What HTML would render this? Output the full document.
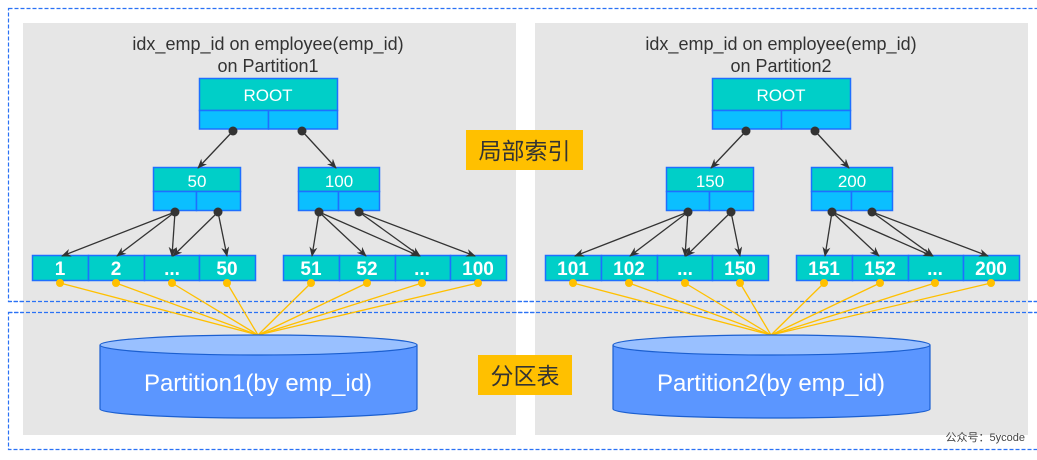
<!DOCTYPE html>
<html><head><meta charset="utf-8"><style>
body{margin:0;background:#fff;width:1037px;height:455px;overflow:hidden}
svg text{font-family:"Liberation Sans","Noto Sans CJK SC",sans-serif}
</style></head><body>
<svg width="1037" height="455" viewBox="0 0 1037 455" xmlns="http://www.w3.org/2000/svg">
<defs>
<marker id="ar" markerWidth="10" markerHeight="8" refX="9" refY="4" orient="auto" markerUnits="userSpaceOnUse">
<path d="M0,0 L10,4 L0,8 L3,4 z" fill="#333"/></marker>
<g id="panel">
<text x="268" y="50" font-size="18" fill="#333" text-anchor="middle">idx_emp_id on employee(emp_id)</text>
<!-- root -->
<rect x="199.5" y="78.5" width="138" height="32" fill="#00CFC8" stroke="#1E6FFF" stroke-width="1.5"/>
<rect x="199.5" y="110.5" width="69" height="18.5" fill="#0BBFFF" stroke="#1E6FFF" stroke-width="1.5"/>
<rect x="268.5" y="110.5" width="69" height="18.5" fill="#0BBFFF" stroke="#1E6FFF" stroke-width="1.5"/>
<!-- mid boxes -->
<rect x="153.5" y="167.5" width="87" height="24" fill="#00CFC8" stroke="#1E6FFF" stroke-width="1.5"/>
<rect x="153.5" y="191.5" width="43" height="19" fill="#0BBFFF" stroke="#1E6FFF" stroke-width="1.5"/>
<rect x="196.5" y="191.5" width="44" height="19" fill="#0BBFFF" stroke="#1E6FFF" stroke-width="1.5"/>
<rect x="298.5" y="167.5" width="81" height="24" fill="#00CFC8" stroke="#1E6FFF" stroke-width="1.5"/>
<rect x="298.5" y="191.5" width="40" height="19" fill="#0BBFFF" stroke="#1E6FFF" stroke-width="1.5"/>
<rect x="338.5" y="191.5" width="41" height="19" fill="#0BBFFF" stroke="#1E6FFF" stroke-width="1.5"/>
<!-- leaves -->
<g fill="#00CFC8" stroke="#1E6FFF" stroke-width="1.5">
<rect x="32.5" y="255.5" width="56" height="25"/><rect x="88.5" y="255.5" width="56" height="25"/>
<rect x="144.5" y="255.5" width="55" height="25"/><rect x="199.5" y="255.5" width="56" height="25"/>
<rect x="283.5" y="255.5" width="56" height="25"/><rect x="339.5" y="255.5" width="56" height="25"/>
<rect x="395.5" y="255.5" width="55" height="25"/><rect x="450.5" y="255.5" width="56" height="25"/>
</g>
<!-- arrows -->
<g stroke="#333" stroke-width="1.3" marker-end="url(#ar)">
<line x1="233" y1="131" x2="198" y2="168"/><line x1="302" y1="131" x2="336" y2="168"/>
<line x1="175" y1="212" x2="62" y2="256"/><line x1="175" y1="212" x2="117" y2="256"/><line x1="175" y1="212" x2="172" y2="256"/>
<line x1="218" y1="212" x2="173" y2="256"/><line x1="218" y1="212" x2="227" y2="256"/>
<line x1="319" y1="212" x2="312" y2="256"/><line x1="319" y1="212" x2="366" y2="256"/><line x1="319" y1="212" x2="419" y2="256"/>
<line x1="359" y1="212" x2="420" y2="256"/><line x1="359" y1="212" x2="475" y2="256"/>
</g>
<g fill="#333"><circle cx="233" cy="131" r="4.5"/><circle cx="302" cy="131" r="4.5"/>
<circle cx="175" cy="212" r="4.5"/><circle cx="218" cy="212" r="4.5"/>
<circle cx="319" cy="212" r="4.5"/><circle cx="359" cy="212" r="4.5"/></g>
<!-- yellow -->
<g stroke="#FFC000" stroke-width="1.3">
<line x1="60" y1="283" x2="258" y2="335"/><line x1="116" y1="283" x2="258" y2="335"/>
<line x1="172" y1="283" x2="258" y2="335"/><line x1="227" y1="283" x2="258" y2="335"/>
<line x1="311" y1="283" x2="258" y2="335"/><line x1="367" y1="283" x2="258" y2="335"/>
<line x1="422" y1="283" x2="258" y2="335"/><line x1="478" y1="283" x2="258" y2="335"/>
</g>
<g fill="#FFC000"><circle cx="60" cy="283" r="4"/><circle cx="116" cy="283" r="4"/><circle cx="172" cy="283" r="4"/><circle cx="227" cy="283" r="4"/>
<circle cx="311" cy="283" r="4"/><circle cx="367" cy="283" r="4"/><circle cx="422" cy="283" r="4"/><circle cx="478" cy="283" r="4"/></g>
<!-- cylinder -->
<path d="M100,345 L100,409 A158.5,9 0 0 0 417,409 L417,345" fill="#5B96FF" stroke="#1B5FD0" stroke-width="1.2"/>
<ellipse cx="258.5" cy="345" rx="158.5" ry="10" fill="#99C0FF" stroke="#1B5FD0" stroke-width="1.2"/>
</g>
</defs>
<!-- dashed frames -->
<rect x="8.5" y="8.5" width="1040" height="293" fill="none" stroke="#2A72F5" stroke-width="1.2" stroke-dasharray="4,2"/>
<rect x="8.5" y="312.5" width="1040" height="137" fill="none" stroke="#2A72F5" stroke-width="1.2" stroke-dasharray="4,2"/>
<rect x="23" y="23" width="493" height="412" fill="#E6E6E6"/>
<rect x="535" y="23" width="493" height="412" fill="#E6E6E6"/>
<line x1="8" y1="301.5" x2="1037" y2="301.5" stroke="#2A72F5" stroke-width="1.2" stroke-dasharray="4,2"/>
<line x1="8" y1="312.5" x2="1037" y2="312.5" stroke="#2A72F5" stroke-width="1.2" stroke-dasharray="4,2"/>
<use href="#panel"/>
<use href="#panel" transform="translate(513,0)"/>
<g fill="#fff" text-anchor="middle">
<text x="268" y="101" font-size="17">ROOT</text><text x="781" y="101" font-size="17">ROOT</text>
<text x="197" y="187" font-size="17">50</text><text x="339" y="187" font-size="17">100</text>
<text x="710" y="187" font-size="17">150</text><text x="852" y="187" font-size="17">200</text>
<g font-size="19" font-weight="bold">
<text x="60" y="275">1</text><text x="116" y="275">2</text><text x="172" y="275">...</text><text x="227" y="275">50</text>
<text x="311" y="275">51</text><text x="367" y="275">52</text><text x="422" y="275">...</text><text x="478" y="275">100</text>
<text x="573" y="275">101</text><text x="629" y="275">102</text><text x="685" y="275">...</text><text x="740" y="275">150</text>
<text x="824" y="275">151</text><text x="880" y="275">152</text><text x="935" y="275">...</text><text x="991" y="275">200</text>
</g>
<text x="258" y="391" font-size="24">Partition1(by emp_id)</text>
<text x="771" y="391" font-size="24">Partition2(by emp_id)</text>
</g>
<text x="268" y="72" font-size="18" fill="#333" text-anchor="middle">on Partition1</text>
<text x="781" y="72" font-size="18" fill="#333" text-anchor="middle">on Partition2</text>
<rect x="466" y="130" width="117" height="40" fill="#FFC000"/>
<text x="524.5" y="159" font-size="23" fill="#333" text-anchor="middle">局部索引</text>
<rect x="478" y="355" width="94" height="40" fill="#FFC000"/>
<text x="525" y="384" font-size="23" fill="#333" text-anchor="middle">分区表</text>
<text x="1025" y="441" font-size="11" fill="#444" text-anchor="end">公众号：5ycode</text>
</svg>
</body></html>
